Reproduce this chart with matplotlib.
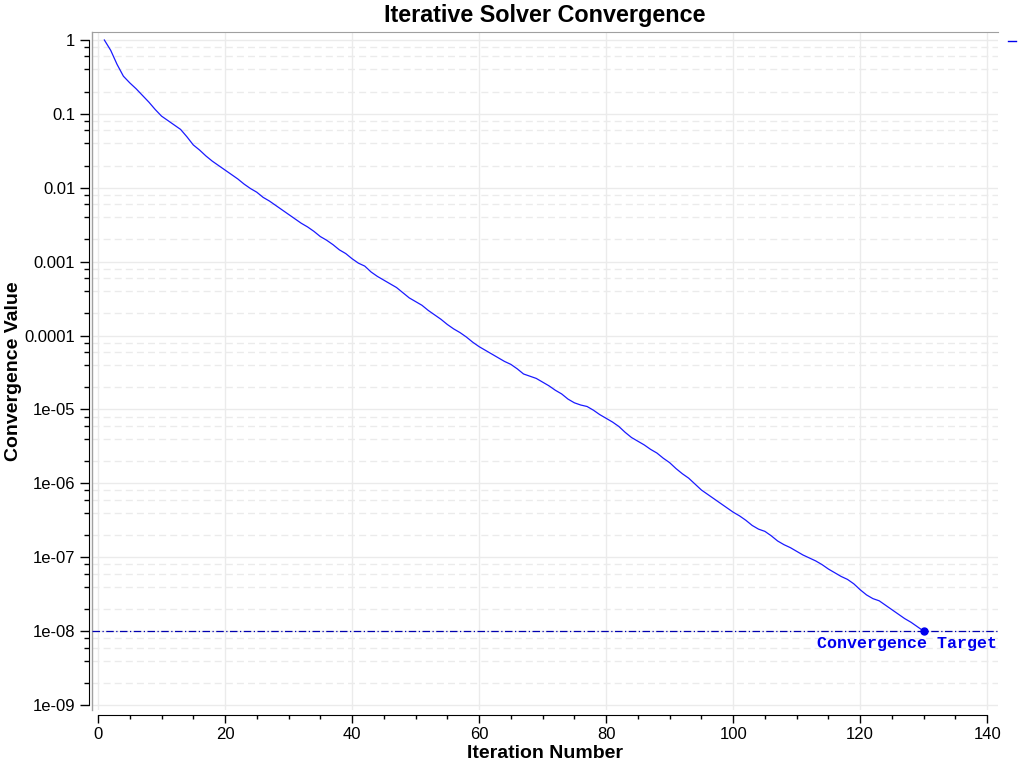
import numpy as np
import matplotlib
matplotlib.use('Agg')
import matplotlib.pyplot as plt
from matplotlib.ticker import FixedLocator, FixedFormatter, MultipleLocator, NullFormatter
from matplotlib.lines import Line2D

plt.rcParams['font.family'] = ['Liberation Sans', 'DejaVu Sans']

# log10 of the convergence value, iterations 1..130
iterations = np.arange(1, 131)
log_value = [
    0.00, -0.14, -0.33, -0.49, -0.58, -0.66, -0.75, -0.84, -0.94, -1.03,
    -1.09, -1.15, -1.21, -1.31, -1.42, -1.49, -1.57, -1.64, -1.70, -1.76,
    -1.82, -1.88, -1.95, -2.01, -2.06, -2.13, -2.18, -2.24, -2.30, -2.36,
    -2.42, -2.48, -2.53, -2.59, -2.66, -2.71, -2.77, -2.84, -2.89, -2.96,
    -3.02, -3.06, -3.14, -3.20, -3.25, -3.30, -3.35, -3.42, -3.49, -3.54,
    -3.59, -3.66, -3.72, -3.78, -3.85, -3.91, -3.96, -4.02, -4.09, -4.15,
    -4.20, -4.25, -4.30, -4.35, -4.39, -4.45, -4.52, -4.55, -4.58, -4.63,
    -4.68, -4.74, -4.79, -4.86, -4.91, -4.94, -4.96, -5.01, -5.07, -5.12,
    -5.17, -5.23, -5.31, -5.38, -5.43, -5.48, -5.54, -5.59, -5.66, -5.72,
    -5.80, -5.87, -5.93, -6.01, -6.09, -6.15, -6.21, -6.27, -6.33, -6.39,
    -6.44, -6.50, -6.57, -6.62, -6.65, -6.71, -6.78, -6.83, -6.87, -6.92,
    -6.97, -7.01, -7.05, -7.10, -7.16, -7.21, -7.26, -7.30, -7.36, -7.44,
    -7.51, -7.56, -7.59, -7.65, -7.71, -7.77, -7.83, -7.88, -7.94, -8.00,
]
values = 10.0 ** np.array(log_value)

target = 1e-8
target_iter = 130
target_label = 'Convergence Target'

y_ticks = [1, 0.1, 0.01, 0.001, 0.0001, 1e-5, 1e-6, 1e-7, 1e-8, 1e-9]
y_tick_labels = ['1', '0.1', '0.01', '0.001', '0.0001', '1e-05', '1e-06',
                 '1e-07', '1e-08', '1e-09']
x_ticks = [0, 20, 40, 60, 80, 100, 120, 140]

fig = plt.figure(figsize=(10.24, 7.68), dpi=100)
ax = fig.add_axes([92 / 1024, 1 - 710 / 768, 906 / 1024, 678 / 768])

ax.set_yscale('log')
ax.plot(iterations, values, color='#1a1aff', lw=0.9, zorder=3)
ax.axhline(target, color='#0000b0', lw=0.9, dashes=(6, 2, 1, 2), zorder=2)
ax.plot([target_iter], [target], 'o', color='#0000ee', ms=5, zorder=4)
ax.text(141.5, target * 0.87, target_label, ha='right', va='top',
        color='#0000ee', fontsize=12, fontweight='bold',
        family=['Liberation Mono', 'DejaVu Sans Mono'])

ax.set_xlim(-0.945, 141.7)
ax.set_ylim(0.856e-9, 1.283)

# ticks
ax.yaxis.set_major_locator(FixedLocator(y_ticks))
ax.yaxis.set_major_formatter(FixedFormatter(y_tick_labels))
minor = [m * 10.0 ** e for e in range(-9, 0) for m in (2, 4, 6, 8)]
ax.yaxis.set_minor_locator(FixedLocator(minor))
ax.yaxis.set_minor_formatter(NullFormatter())
ax.xaxis.set_major_locator(FixedLocator(x_ticks))
ax.xaxis.set_minor_locator(MultipleLocator(5))
ax.tick_params(axis='both', which='major', labelsize=12, length=6.5, width=1,
               color='black', labelcolor='black')
ax.tick_params(axis='both', which='minor', length=3.5, width=1, color='black')
ax.tick_params(axis='x', which='major', length=5.5)
ax.tick_params(axis='x', which='minor', length=3)

# grid
ax.grid(True, which='major', axis='both', color='#ebebeb', lw=1, zorder=0)
ax.grid(True, which='minor', axis='y', color='#ebebeb', lw=1, ls=(0, (5, 3)), zorder=0)
ax.set_axisbelow(True)

# spines: gray frame on top/left, detached black axis lines
ax.spines['right'].set_visible(False)
ax.spines['top'].set_color('#a0a0a0')
ax.spines['left'].set_position(('outward', 2))
ax.spines['left'].set_bounds(1e-9, 1)
ax.spines['bottom'].set_position(('outward', 3.5))
ax.spines['bottom'].set_bounds(0, 140)
ax.plot([0, 0], [0, 1], transform=ax.transAxes, color='#a0a0a0', lw=1,
        clip_on=False, zorder=1)

ax.set_title('Iterative Solver Convergence', fontsize=16.8, fontweight='bold', pad=7)
ax.set_xlabel('Iteration Number', fontsize=14, fontweight='bold', labelpad=2)
ax.set_ylabel('Convergence Value', fontsize=14, fontweight='bold', labelpad=2)

# small legend key at the top right
fig.add_artist(Line2D([1008 / 1024, 1016 / 1024], [1 - 41 / 768, 1 - 41 / 768],
                      color='#0000ee', lw=1))

fig.savefig('out.png', dpi=100)
